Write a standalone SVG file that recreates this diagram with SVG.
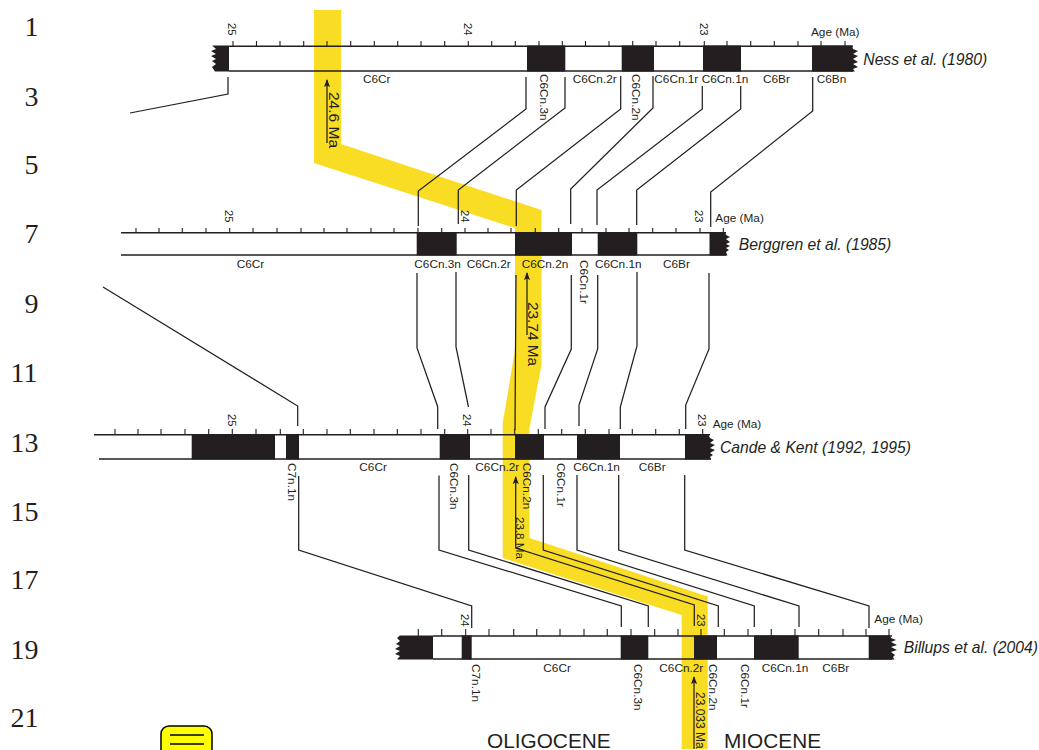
<svg xmlns="http://www.w3.org/2000/svg" width="1039" height="750" viewBox="0 0 1039 750">
<style>
text{font-family:"Liberation Sans",Arial,sans-serif;fill:#231f20}
.l{font-size:11.8px}
.a{font-size:11.3px}
.t{font-size:15.7px;font-style:italic}
.n{font-family:"Liberation Serif","Times New Roman",serif;font-size:28px;fill:#231f20}
.e{font-size:20.8px}
.m{fill:#231f20;stroke:none}
.b{fill:none;stroke:#231f20;stroke-width:1.5}
.k{fill:none;stroke:#231f20;stroke-width:1.1}
.c{fill:none;stroke:#231f20;stroke-width:1.25}
</style>
<defs>
<marker id="ah" markerUnits="userSpaceOnUse" markerWidth="8" markerHeight="7" refX="7" refY="3.5" orient="auto-start-reverse" viewBox="0 0 8 7"><path d="M8,3.5 L0,0.5 L1.5,3.5 L0,6.5Z" fill="#231f20"/></marker>
</defs>
<rect width="1039" height="750" fill="#fff"/>
<polygon id="age-band" fill="#f9dc24" points="314,10 341,10 341,144 541.5,210 541.5,365 529.5,428 529.5,538 707.7,596.5 707.7,749 681.7,749 681.7,615 502.7,558 502.7,423 515,350 515,228 314,163"/>

<g id="connectors" class="c">
<path d="M228,77V94L130,113"/>
<path d="M526,77V109L418.3,191V226"/>
<path d="M565,77V108L458.3,190V224"/>
<path d="M620.7,76V109L516.3,190V226"/>
<path d="M653,76V108L570.7,189V224"/>
<path d="M702.3,86V109L597,190V225"/>
<path d="M740.7,86V109L636.7,190V225"/>
<path d="M812.7,77V111L710.7,192V227"/>
<path d="M103,287L297.7,406V426"/>
<path d="M417,273V348L437.7,406.7V429"/>
<path d="M456,272V347L468.5,407"/>
<path d="M516,275L515,430"/>
<path d="M571.3,275V349L545,407V429"/>
<path d="M597.7,275V349L579,405V426"/>
<path d="M637,272V346L620.3,407V429"/>
<path d="M709,273V349L685.7,405V429"/>
<path d="M298.7,476V550L471.7,606V628"/>
<path d="M439,475.5V550L621.3,606V627"/>
<path d="M468.7,475V550L648.3,606V627"/>
<path d="M543.3,475V550L718.3,606V627"/>
<path d="M577,475V550L754.3,606V627"/>
<path d="M618.7,475V550L799,606V627"/>
<path d="M684.7,475V550L869,606V628"/>
</g>

<g id="arrows" class="c">
<path d="M327,143V80" marker-end="url(#ah)"/>
<path d="M527,335V273" marker-end="url(#ah)"/>
<path d="M515.7,477V548L694.3,605V626" marker-start="url(#ah)"/>
<path d="M694,749V677" marker-end="url(#ah)"/>
</g>

<g id="ness-1980">
<path class="k" d="M233,41V46M256.5,41V46M280,41V46M303.7,41V46M327,41V46M350.7,41V46M374.3,41V46M397.7,41V46M421,41V46M444.7,41V46M468.3,41V46M491.7,41V46M515.3,41V46M539,41V46M562.3,41V46M585.5,41V46M609,41V46M632.7,41V46M656,41V46M679.7,41V46M704.3,41V46M727,41V46M750.7,41V46M774.3,41V46M798,41V46M821,41V46M845,41V46"/>
<path class="b" d="M229,46.3H853M229,71H853"/>
<path class="m" d="M229,45.5H212L216,49L211,51L216,54L211,56L216,59L212,61L216,64L212,67L215,71.5H229Z"/>
<path class="m" d="M527,45.5H565.3V71.5H527ZM621.7,45.5H654V71.5H621.7ZM703,45.5H741V71.5H703Z"/>
<path class="m" d="M812,45.5H852L853,49L858,51L853,54L858,56L853,59L858,62L853,64L858,67L853,69L855,71.5H812Z"/>
<text class="a" transform="translate(228,23) rotate(90)">25</text>
<text class="a" transform="translate(463.5,23) rotate(90)">24</text>
<text class="a" transform="translate(700,23) rotate(90)">23</text>
<text class="l" x="811" y="35.5">Age (Ma)</text>
<text class="l" x="363" y="83">C6Cr</text>
<text class="l" transform="translate(539.5,74) rotate(90)">C6Cn.3n</text>
<text class="l" x="572.7" y="83">C6Cn.2r</text>
<text class="l" transform="translate(632,74) rotate(90)">C6Cn.2n</text>
<text class="l" x="654.3" y="82.5">C6Cn.1r</text>
<text class="l" x="701.7" y="82.5">C6Cn.1n</text>
<text class="l" x="763" y="82.5">C6Br</text>
<text class="l" x="816.7" y="82.5">C6Bn</text>
<text class="t" x="863.3" y="65">Ness et al. (1980)</text>
</g>

<g id="berggren-1985">
<path class="k" d="M136,228V233M159,228V233M182.3,228V233M206,228V233M229.7,228V233M253,228V233M277,228V233M301,228V233M324,228V233M347,228V233M371,228V233M394,228V233M418,228V233M441.7,228V233M465,228V233M488,228V233M511,228V233M535.3,228V233M558.7,228V233M582,228V233M606,228V233M629,228V233M652.7,228V233M676,228V233M700,228V233M723.3,228V233"/>
<path class="b" d="M121,232.8H726M121,255H726"/>
<path class="m" d="M416.7,232H456.7V255.5H416.7ZM515,232H572V255.5H515ZM597.7,232H637.3V255.5H597.7Z"/>
<path class="m" d="M709.5,232H725L726,235L730,237L726,239L730,242L726,244L730,246L726,248L729,250L726,252L727.5,255.5H709.5Z"/>
<text class="a" transform="translate(224.5,210) rotate(90)">25</text>
<text class="a" transform="translate(461,210) rotate(90)">24</text>
<text class="a" transform="translate(694.5,210) rotate(90)">23</text>
<text class="l" x="715.3" y="222">Age (Ma)</text>
<text class="l" x="236.7" y="268">C6Cr</text>
<text class="l" x="414.3" y="268">C6Cn.3n</text>
<text class="l" x="466.7" y="268">C6Cn.2r</text>
<text class="l" x="521.7" y="268">C6Cn.2n</text>
<text class="l" transform="translate(580,260) rotate(90)">C6Cn.1r</text>
<text class="l" x="595" y="268">C6Cn.1n</text>
<text class="l" x="663" y="268">C6Br</text>
<text class="t" x="738.7" y="250">Berggren et al. (1985)</text>
</g>

<g id="cande-kent">
<path class="k" d="M115,429V435M138,429V435M161,429V435M185,429V435M208.7,429V435M232.3,429V435M256,429V435M280.3,429V435M303.3,429V435M327,429V435M350.3,429V435M374,429V435M397.3,429V435M421,429V435M444.7,429V435M467.7,429V435M491,429V435M514.7,429V435M538.3,429V435M561.7,429V435M585.3,429V435M609,429V435M632.3,429V435M655.7,429V435M679.3,429V435M702.7,429V435"/>
<path class="b" d="M94,434.8H710M99,459H711"/>
<path class="m" d="M191.7,434H275V459.5H191.7ZM286,434H299V459.5H286ZM439.7,434H470V459.5H439.7ZM515,434H544V459.5H515ZM577,434H620V459.5H577Z"/>
<path class="m" d="M685,434H708L710,438L714,440L710,443L715,445L710,448L715,450L710,453L713,455L710,457L711,459.5H685Z"/>
<text class="a" transform="translate(227.5,414) rotate(90)">25</text>
<text class="a" transform="translate(463,414) rotate(90)">24</text>
<text class="a" transform="translate(697.5,414) rotate(90)">23</text>
<text class="l" x="712.7" y="428">Age (Ma)</text>
<text class="l" transform="translate(288.3,463) rotate(90)">C7n.1n</text>
<text class="l" x="359.3" y="471">C6Cr</text>
<text class="l" transform="translate(450,463) rotate(90)">C6Cn.3n</text>
<text class="l" x="475.3" y="471">C6Cn.2r</text>
<text class="l" transform="translate(523.3,462.7) rotate(90)">C6Cn.2n</text>
<text class="l" transform="translate(556.7,463) rotate(90)">C6Cn.1r</text>
<text class="l" x="573.3" y="471">C6Cn.1n</text>
<text class="l" x="638.7" y="471">C6Br</text>
<text class="t" x="720" y="452.7">Cande &amp; Kent (1992, 1995)</text>
</g>

<g id="billups-2004">
<path class="k" d="M418.3,629V636M441.7,629V636M465.7,629V636M489,629V636M513.7,629V636M536.7,629V636M560,629V636M584,629V636M607.3,629V636M631,629V636M654.7,629V636M678,629V636M701,629V636M724.3,629V636M748,629V636M771.3,629V636M795,629V636M818.7,629V636M843,629V636M866,629V636M889,629V636"/>
<path class="b" d="M433,636H892M433,659H892"/>
<path class="m" d="M433,635.5V659.5H397L400,656L395,654L400,651L395,649L400,646L396,644L400,641L397,638L400,635.5ZM461.7,635.5H471.7V659.5H461.7ZM620.7,635.5H648.3V659.5H620.7ZM694,635.5H717V659.5H694ZM754,635.5H798.7V659.5H754Z"/>
<path class="m" d="M868.7,635.5H890L891,638L896,640L891,642L897,645L891,647L897,650L891,652L895,655L893,657L894.5,659.5H868.7Z"/>
<text class="a" transform="translate(461,614) rotate(90)">24</text>
<text class="a" transform="translate(697,614) rotate(90)">23</text>
<text class="l" x="874.3" y="623.3">Age (Ma)</text>
<text class="l" transform="translate(471.7,664) rotate(90)">C7n.1n</text>
<text class="l" x="543.3" y="671.7">C6Cr</text>
<text class="l" transform="translate(634,664) rotate(90)">C6Cn.3n</text>
<text class="l" x="659.3" y="671.7">C6Cn.2r</text>
<text class="l" transform="translate(709.3,664) rotate(90)">C6Cn.2n</text>
<text class="l" transform="translate(740.7,664) rotate(90)">C6Cn.1r</text>
<text class="l" x="761.7" y="671.7">C6Cn.1n</text>
<text class="l" x="822.3" y="671.7">C6Br</text>
<text class="t" x="903.7" y="652.7">Billups et al. (2004)</text>
</g>

<g id="age-labels">
<text style="font-size:15.5px" transform="translate(329,92) rotate(90)">24.6 Ma</text>
<text style="font-size:15.4px" transform="translate(528,302) rotate(90)">23.74 Ma</text>
<text style="font-size:11.6px" transform="translate(516,517) rotate(90)">23.8 Ma</text>
<text style="font-size:12px" transform="translate(696,692) rotate(90)">23.033 Ma</text>
</g>

<g id="row-numbers">
<text class="n" x="24.5" y="36">1</text>
<text class="n" x="24.5" y="106">3</text>
<text class="n" x="24.5" y="174">5</text>
<text class="n" x="24.5" y="243">7</text>
<text class="n" x="24.5" y="313">9</text>
<text class="n" x="10.5" y="382">11</text>
<text class="n" x="10.5" y="451.7">13</text>
<text class="n" x="10.5" y="520.7">15</text>
<text class="n" x="10.5" y="589">17</text>
<text class="n" x="10.5" y="659">19</text>
<text class="n" x="10.5" y="727">21</text>
</g>

<g id="legend">
<rect x="161" y="726" width="51" height="40" rx="8" fill="#ff0" stroke="#000" stroke-width="1.5"/>
<path d="M170,735H204M170,744H204" stroke="#000" stroke-width="1.5" fill="none"/>
</g>

<g id="epochs">
<text class="e" x="487" y="748">OLIGOCENE</text>
<text class="e" x="724" y="748">MIOCENE</text>
</g>
</svg>
